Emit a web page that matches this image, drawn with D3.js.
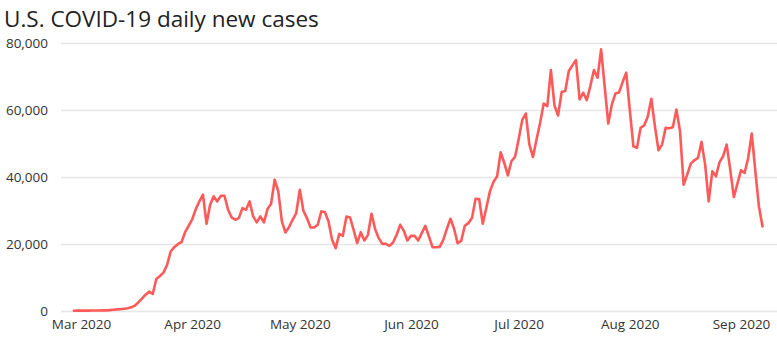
<!DOCTYPE html>
<html>
<head>
<meta charset="utf-8">
<script src="https://cdn.jsdelivr.net/npm/d3@7"></script>
<style>
  html, body { margin: 0; padding: 0; background: #fff; }
  svg { display: block; font-family: "Open Sans", sans-serif; }
</style>
</head>
<body>
<svg id="chart" width="777" height="340"></svg>
<script>
// ---- data ----
const title = "U.S. COVID-19 daily new cases";
const startDate = "2020-02-28";
const dailyCases = [
  0, 10, 20, 30, 30, 40, 70, 70, 120, 110, 180, 290, 390, 420, 600, 710,
  1000, 1500, 2500, 3600, 4800, 5700, 5000, 9500, 10400, 11400, 13700, 17700,
  19000, 19900, 20500, 23400, 25400, 27300, 30400, 32700, 34700, 26000, 31700,
  34200, 32700, 34400, 34400, 30200, 27900, 27200, 27700, 30700, 30200, 32700,
  28200, 26400, 28200, 26400, 30400, 32000, 39200, 35700, 26700, 23400, 25000,
  27200, 29200, 36200, 29900, 27700, 24900, 24900, 25700, 29700, 29500, 26700,
  21200, 18700, 23000, 22400, 28200, 27900, 24200, 20200, 23500, 21000, 22700,
  29000, 24400, 21700, 20000, 20000, 19400, 20400, 22700, 25700, 23900, 21000,
  22400, 22400, 21000, 23200, 25400, 22200, 19000, 19000, 19100, 21200, 24500,
  27500, 24500, 20200, 20900, 25400, 26200, 27700, 33500, 33400, 26000, 30700,
  35700, 38500, 40200, 47400, 44200, 40500, 44700, 46000, 51200, 57000, 59000,
  49700, 46000, 51200, 56200, 62000, 61200, 72000, 61400, 58400, 65400, 65700,
  71700, 73400, 75000, 63200, 65200, 63000, 67200, 72000, 69700, 78200, 67000,
  56000, 61700, 65000, 65300, 68400, 71200, 60000, 49200, 48700, 54700, 55400,
  58000, 63400, 55200, 48000, 49700, 54700, 54600, 54900, 60200, 53700, 37700,
  40700, 44000, 45000, 45700, 50500, 43700, 32700, 41700, 40200, 44400, 46200,
  49700, 42200, 34000, 38000, 42000, 41200, 45700, 53000, 41700, 31200, 25200
];
const yTicks = [0, 20000, 40000, 60000, 80000];
const xTickMonths = ["2020-03-01", "2020-04-01", "2020-05-01", "2020-06-01", "2020-07-01", "2020-08-01", "2020-09-01"];

// ---- build ----
const parse = d3.utcParse("%Y-%m-%d");
const t0 = parse(startDate);
const series = dailyCases.map((v, i) => ({ date: d3.utcDay.offset(t0, i), value: v }));

const svg = d3.select("#chart");
const W = 777;

const x = d3.scaleUtc()
  .domain([parse("2020-03-01"), parse("2020-09-01")])
  .range([81, 741]);
const y = d3.scaleLinear().domain([0, 80000]).range([310.7, 43.3]);

// gridlines
svg.append("g").selectAll("line").data(yTicks).join("line")
  .attr("x1", 61).attr("x2", W)
  .attr("y1", d => Math.round(y(d)) + 0.5).attr("y2", d => Math.round(y(d)) + 0.5)
  .attr("stroke", "#e6e6e6").attr("stroke-width", 1.5);

// y axis labels
const yAxis = d3.axisLeft(y).tickValues(yTicks).tickFormat(d3.format(",")).tickSize(0).tickPadding(0);
const gy = svg.append("g").attr("transform", "translate(48,0)").call(yAxis);
gy.select(".domain").remove();
gy.selectAll("text").attr("font-size", 13.5).attr("fill", "#333").attr("font-family", "'Open Sans', sans-serif");

// x axis labels
const xAxis = d3.axisBottom(x).tickValues(xTickMonths.map(parse))
  .tickFormat(d3.utcFormat("%b %Y")).tickSize(0).tickPadding(0);
const gx = svg.append("g").attr("transform", "translate(0,319.5)").call(xAxis);
gx.select(".domain").remove();
gx.selectAll("text").attr("font-size", 13.5).attr("fill", "#333").attr("font-family", "'Open Sans', sans-serif");

// line
const line = d3.line().x(d => x(d.date)).y(d => y(d.value));
svg.append("path").datum(series)
  .attr("fill", "none").attr("stroke", "#ff5a5a").attr("stroke-width", 2.6)
  .attr("stroke-linejoin", "round").attr("stroke-linecap", "round")
  .attr("d", line);

// title
svg.append("text").attr("x", 4).attr("y", 27)
  .attr("font-size", 22.5).attr("fill", "#222")
  .text(title);
</script>
</body>
</html>
